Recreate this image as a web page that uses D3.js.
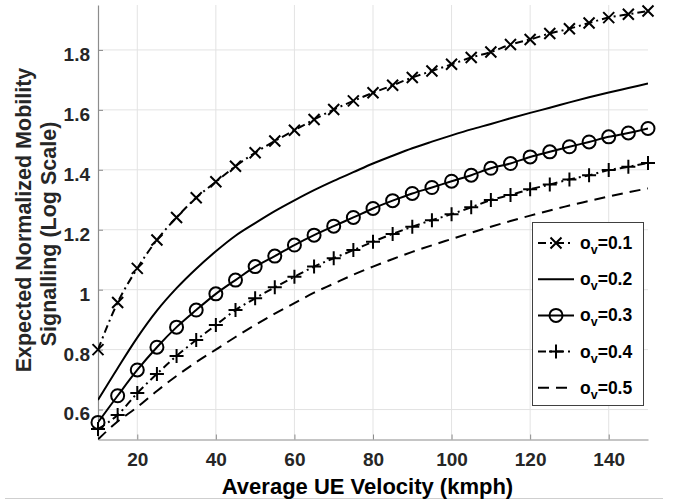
<!DOCTYPE html>
<html>
<head>
<meta charset="utf-8">
<script src="https://cdn.jsdelivr.net/npm/d3@7"></script>
<style>
  body { margin: 0; background: #fff; }
  text { font-family: "Liberation Sans", Arial, sans-serif; font-weight: bold; }
</style>
</head>
<body>
<div id="chart"></div>
<script>
// velocity samples (kmph)
const velocity = [10, 15, 20, 25, 30, 35, 40, 45, 50, 55, 60, 65, 70, 75, 80,
    85, 90, 95, 100, 105, 110, 115, 120, 125, 130, 135, 140, 145, 150];

// expected normalized mobility signalling, one array per sigma_v
const sigma01 = [0.80, 0.957, 1.071, 1.166, 1.241, 1.307, 1.36, 1.412, 1.457, 1.496, 1.532,
    1.568, 1.601, 1.63, 1.657, 1.682, 1.708, 1.73, 1.752, 1.775, 1.793, 1.818, 1.835,
    1.855, 1.871, 1.89, 1.908, 1.919, 1.93];
const sigma02 = [0.632, 0.738, 0.84, 0.93, 1.005, 1.07, 1.128, 1.18, 1.222, 1.262, 1.298,
    1.332, 1.363, 1.392, 1.421, 1.447, 1.472, 1.494, 1.515, 1.535, 1.553, 1.572, 1.59,
    1.607, 1.625, 1.642, 1.658, 1.673, 1.688];
const sigma03 = [0.557, 0.646, 0.732, 0.808, 0.875, 0.932, 0.986, 1.032, 1.077, 1.112, 1.149,
    1.182, 1.212, 1.241, 1.271, 1.297, 1.321, 1.341, 1.362, 1.382, 1.405, 1.421, 1.443,
    1.46, 1.477, 1.493, 1.51, 1.523, 1.538];
const sigma04 = [0.535, 0.582, 0.655, 0.719, 0.779, 0.832, 0.882, 0.932, 0.971, 1.008, 1.043,
    1.077, 1.105, 1.132, 1.16, 1.186, 1.21, 1.232, 1.252, 1.275, 1.299, 1.316, 1.335,
    1.351, 1.368, 1.382, 1.399, 1.41, 1.423];
const sigma05 = [0.50, 0.56, 0.608, 0.662, 0.712, 0.758, 0.80, 0.842, 0.882, 0.92, 0.955,
    0.99, 1.02, 1.05, 1.077, 1.102, 1.126, 1.148, 1.169, 1.19, 1.21, 1.229, 1.247,
    1.264, 1.281, 1.296, 1.311, 1.325, 1.338];

const seriesLabels = ["0.1", "0.2", "0.3", "0.4", "0.5"];
const seriesValues = [sigma01, sigma02, sigma03, sigma04, sigma05];
const seriesMarkers = ["x", "none", "o", "+", "none"];
const seriesDash = ["8,4,2,4", null, null, "8,4,2,4", "11,7"];

const xTicks = [20, 40, 60, 80, 100, 120, 140];
const yTicks = [0.6, 0.8, 1, 1.2, 1.4, 1.6, 1.8];

const xTitle = "Average UE Velocity (kmph)";
const yTitleLines = ["Expected Normalized Mobility", "Signalling (Log Scale)"];

const W = 684, H = 504;
const margin = {top: 5, right: 36, bottom: 64.5, left: 98};
const width = W - margin.left - margin.right;
const height = H - margin.top - margin.bottom;

const svg = d3.select("#chart").append("svg")
    .attr("width", W)
    .attr("height", H);

svg.append("rect").attr("width", W).attr("height", H).attr("fill", "#fff");

// faint figure edge line at the bottom
svg.append("line")
    .attr("x1", 5).attr("x2", 663)
    .attr("y1", 498.5).attr("y2", 498.5)
    .attr("stroke", "#cfcfcf").attr("stroke-width", 1);

const chart = svg.append("g")
    .attr("transform", `translate(${margin.left},${margin.top})`);

const xScale = d3.scaleLinear().domain([10, 150]).range([0, width]);
const yScale = d3.scaleLinear().domain([0.5, 1.95]).range([height, 0]);

// grid
chart.append("g").selectAll("line.vgrid")
    .data(xTicks)
    .enter().append("line")
    .attr("x1", d => xScale(d)).attr("x2", d => xScale(d))
    .attr("y1", 0).attr("y2", height)
    .attr("stroke", "#e3e3e3").attr("stroke-width", 1);

chart.append("g").selectAll("line.hgrid")
    .data(yTicks)
    .enter().append("line")
    .attr("x1", 0).attr("x2", width)
    .attr("y1", d => yScale(d)).attr("y2", d => yScale(d))
    .attr("stroke", "#e3e3e3").attr("stroke-width", 1);

// axes
const xAxis = d3.axisBottom(xScale)
    .tickValues(xTicks)
    .tickSizeInner(-5)
    .tickSizeOuter(0)
    .tickPadding(13.5)
    .tickFormat(d3.format("d"));

const yAxis = d3.axisLeft(yScale)
    .tickValues(yTicks)
    .tickSizeInner(-5)
    .tickSizeOuter(0)
    .tickPadding(8)
    .tickFormat(d => String(d));

const gx = chart.append("g")
    .attr("transform", `translate(0,${height})`)
    .call(xAxis);

const gy = chart.append("g").call(yAxis);

[gx, gy].forEach(g => {
    g.select(".domain").attr("stroke", "#8c8c8c").attr("stroke-width", 1.2);
    g.selectAll(".tick line").attr("stroke", "#8c8c8c");
    g.selectAll(".tick text")
        .attr("fill", "#262626")
        .style("font-size", "19px")
        .style("font-family", "'Liberation Sans', Arial, sans-serif")
        .style("font-weight", "bold");
});
gy.selectAll(".tick text").attr("dy", "0.55em");

// axis titles
svg.append("text")
    .attr("x", 367.5)
    .attr("y", 494)
    .attr("text-anchor", "middle")
    .style("font-size", "22px")
    .attr("fill", "#000")
    .text(xTitle);

svg.append("text")
    .attr("transform", "translate(30.5,220) rotate(-90)")
    .attr("text-anchor", "middle")
    .style("font-size", "21.5px")
    .attr("fill", "#262626")
    .text(yTitleLines[0]);

svg.append("text")
    .attr("transform", "translate(56,234) rotate(-90)")
    .attr("text-anchor", "middle")
    .style("font-size", "21.5px")
    .attr("fill", "#262626")
    .text(yTitleLines[1]);

// series
chart.append("clipPath").attr("id", "plot-clip")
    .append("rect")
    .attr("x", 0).attr("y", 0)
    .attr("width", width).attr("height", height);

const plot = chart.append("g").attr("clip-path", "url(#plot-clip)");

const line = d3.line()
    .curve(d3.curveMonotoneX)
    .x(d => xScale(d.v))
    .y(d => yScale(d.s));

function markerPath(type) {
    if (type === "x") return "M-5.5,-5.5L5.5,5.5M-5.5,5.5L5.5,-5.5";
    if (type === "+") return "M-7,0L7,0M0,-7L0,7";
    return null;
}

function drawMarker(g, type) {
    if (type === "o") {
        g.append("circle").attr("r", 6.5)
            .attr("fill", "none").attr("stroke", "#000").attr("stroke-width", 2);
    } else if (type === "x" || type === "+") {
        g.append("path").attr("d", markerPath(type))
            .attr("fill", "none").attr("stroke", "#000").attr("stroke-width", 2);
    }
}

seriesValues.forEach((vals, i) => {
    const pts = velocity.map((v, j) => ({v: v, s: vals[j]}));

    plot.append("path")
        .datum(pts)
        .attr("d", line)
        .attr("fill", "none")
        .attr("stroke", "#000")
        .attr("stroke-width", 2)
        .attr("stroke-dasharray", seriesDash[i]);

    if (seriesMarkers[i] !== "none") {
        pts.forEach(p => {
            const g = chart.append("g")
                .attr("transform", `translate(${xScale(p.v)},${yScale(p.s)})`);
            drawMarker(g, seriesMarkers[i]);
        });
    }
});

// legend
const legend = svg.append("g");
legend.append("rect")
    .attr("x", 532.5).attr("y", 222.5)
    .attr("width", 111).attr("height", 183)
    .attr("fill", "#fff")
    .attr("stroke", "#404040").attr("stroke-width", 1);

seriesLabels.forEach((lab, i) => {
    const cy = 243 + i * 36.2;
    const row = legend.append("g");

    row.append("line")
        .attr("x1", 538).attr("x2", 574)
        .attr("y1", cy).attr("y2", cy)
        .attr("stroke", "#000").attr("stroke-width", 2)
        .attr("stroke-dasharray", seriesDash[i]);

    const mk = row.append("g").attr("transform", `translate(556,${cy})`);
    drawMarker(mk, seriesMarkers[i]);

    const t = row.append("text")
        .attr("x", 580)
        .attr("y", cy + 6)
        .style("font-size", "17.5px")
        .attr("fill", "#000");
    t.append("tspan").text("o");
    t.append("tspan").attr("dy", 5).style("font-size", "12.5px").text("v");
    t.append("tspan").attr("dy", -5).text("=" + lab);
});
</script>
</body>
</html>
